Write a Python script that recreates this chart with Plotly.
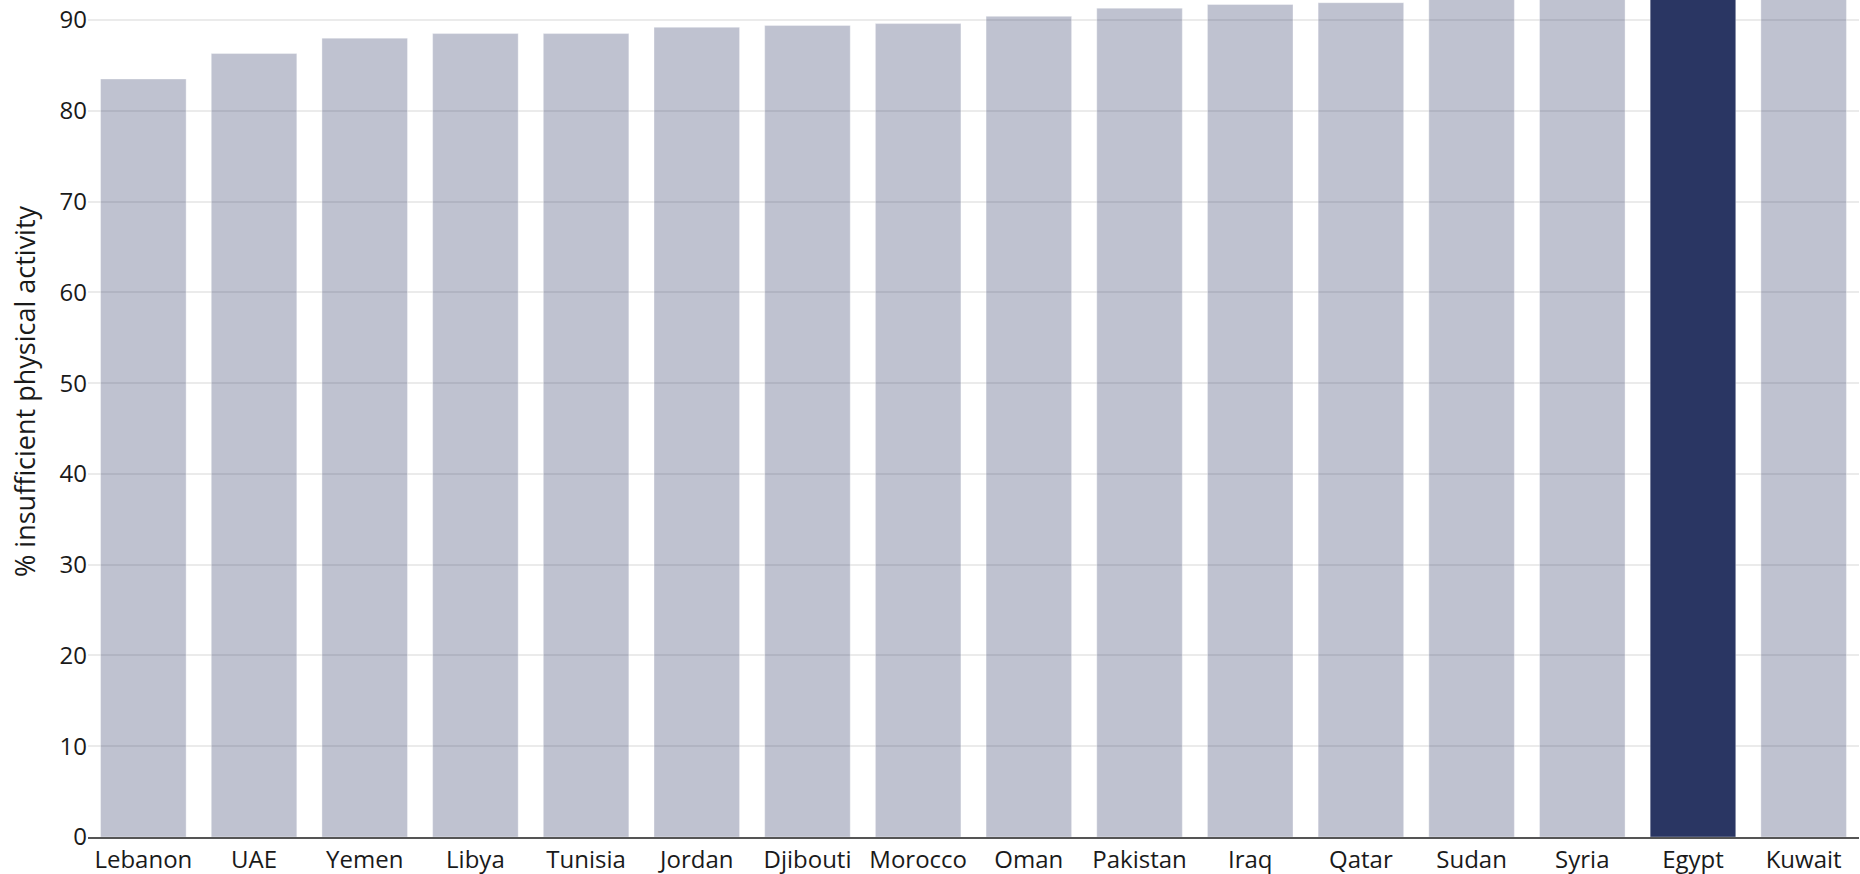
import plotly.graph_objects as go

countries = ["Lebanon", "UAE", "Yemen", "Libya", "Tunisia", "Jordan", "Djibouti", "Morocco",
             "Oman", "Pakistan", "Iraq", "Qatar", "Sudan", "Syria", "Egypt", "Kuwait"]
values = [83.5, 86.3, 88.0, 88.5, 88.5, 89.2, 89.4, 89.6,
          90.4, 91.3, 91.7, 91.9, 92.8, 93.5, 94.2, 95.0]
highlight = "Egypt"
y_title = "% insufficient physical activity"

base_color = "rgba(42,54,99,0.30)"
hi_color = "#2A3663"
colors = [hi_color if c == highlight else base_color for c in countries]

fig = go.Figure(go.Bar(
    x=countries, y=values,
    marker=dict(color=colors, line=dict(color="rgba(255,255,255,0.35)", width=1)),
    hoverinfo="x+y",
))

font_family = "'Open Sans', Lato, sans-serif"
fig.update_layout(
    width=1860, height=874,
    margin=dict(l=88, r=1, t=0, b=37),
    paper_bgcolor="white", plot_bgcolor="white",
    bargap=0.227,
    showlegend=False,
    font=dict(family=font_family, size=24, color="#1a1a1a"),
    xaxis=dict(showgrid=False, showline=True, linecolor="#555555", linewidth=2,
               ticks="", tickfont=dict(size=24, color="#1a1a1a")),
    yaxis=dict(range=[0, 92.2], dtick=10, showgrid=True, gridcolor="#EBEBEB", gridwidth=2,
               zeroline=False, showline=False, ticks="",
               tickfont=dict(size=24, color="#1a1a1a")),
    annotations=[dict(text=y_title, textangle=-90, xref="paper", yref="paper",
                      x=-0.0355, y=0.533, xanchor="center", yanchor="middle",
                      showarrow=False, font=dict(size=27, color="#1a1a1a"))],
)

fig.write_html("out.html", config={"displayModeBar": False},
               post_script="document.body.style.margin='0';document.body.style.overflow='hidden';")
